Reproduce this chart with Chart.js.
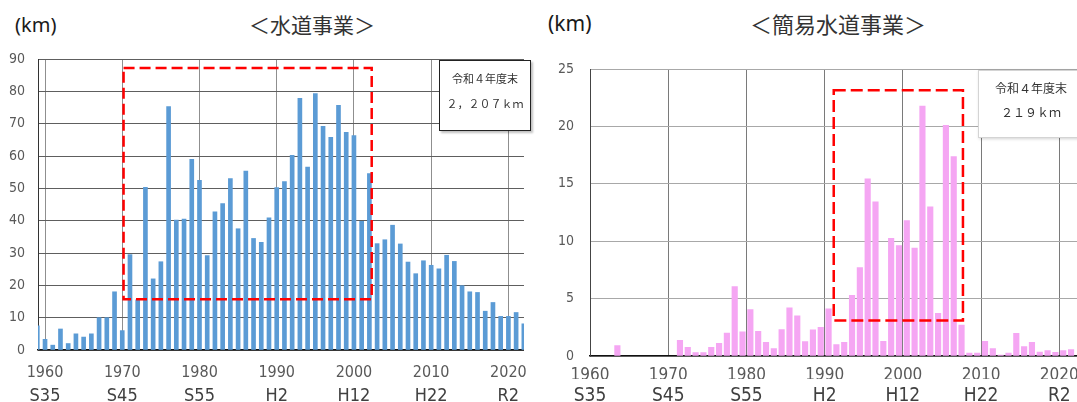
<!DOCTYPE html>
<html>
<head>
<meta charset="utf-8">
<script src="https://cdn.jsdelivr.net/npm/chart.js@4.4.1/dist/chart.umd.min.js"></script>
<style>
  html, body { margin: 0; padding: 0; background: #fff; width: 1077px; height: 402px; overflow: hidden; position: relative; }
  .panel { position: absolute; top: 0; height: 402px; }
  .panel canvas { position: absolute; left: 0; top: 0; }
  .unit { position: absolute; font-family: "Noto Sans", sans-serif; color: #1a1a1a; line-height: 1; white-space: nowrap; }
  .title { position: absolute; font-family: "Noto Sans CJK JP", sans-serif; color: #333; line-height: 1; white-space: nowrap; transform: translate(-50%, -50%); }
  .note { position: absolute; background: #fff; font-family: "Noto Sans CJK JP", sans-serif; color: #333; text-align: center; box-sizing: border-box; white-space: nowrap; }
</style>
</head>
<body>
<div class="unit" style="left:15px; top:15px; font-size:20px;">(km)</div>
<div class="title" style="left:312px; top:24px; font-size:21px;">＜水道事業＞</div>
<div class="unit" style="left:548px; top:13px; font-size:21px;">(km)</div>
<div class="title" style="left:838px; top:23px; font-size:22px;">＜簡易水道事業＞</div>

<div class="panel" style="left:0; width:540px;"><canvas id="water" width="540" height="402"></canvas></div>
<div class="panel" style="left:540px; width:548px;"><canvas id="simple" width="548" height="402"></canvas></div>

<div class="note" style="left:439px; top:60px; width:92px; height:71px; border:1.5px solid #222; box-shadow:2px 2px 2px rgba(0,0,0,0.25); font-size:11px; line-height:25px; padding-top:5px;">令和４年度末<br>２，２０７ｋｍ</div>
<div class="note" style="left:978px; top:70px; width:106px; height:68px; border:1px solid #d4d4d4; box-shadow:1px 1px 3px rgba(0,0,0,0.18); font-size:12px; line-height:24px; padding-top:5px;">令和４年度末<br>２１９ｋｍ</div>

<script>
// Decade ticks on both charts, with the matching Japanese era year underneath
const decadeYears = [1960, 1970, 1980, 1990, 2000, 2010, 2020];
const eraLabels   = ['S35', 'S45', 'S55', 'H2', 'H12', 'H22', 'R2'];

// 水道事業: pipe length installed per year (km)
const waterYears = [
  1959, 1960, 1961, 1962, 1963, 1964, 1965, 1966, 1967, 1968, 1969,
  1970, 1971, 1972, 1973, 1974, 1975, 1976, 1977, 1978, 1979,
  1980, 1981, 1982, 1983, 1984, 1985, 1986, 1987, 1988, 1989,
  1990, 1991, 1992, 1993, 1994, 1995, 1996, 1997, 1998, 1999,
  2000, 2001, 2002, 2003, 2004, 2005, 2006, 2007, 2008, 2009,
  2010, 2011, 2012, 2013, 2014, 2015, 2016, 2017, 2018, 2019,
  2020, 2021, 2022
];
const waterKm = [
  7.5, 3.3, 1.5, 6.5, 2.0, 5.0, 4.0, 5.0, 10.0, 10.0, 18.0,
  6.0, 29.5, 15.5, 50.3, 22.0, 27.3, 75.3, 40.2, 40.5, 59.0,
  52.5, 29.2, 42.7, 45.3, 53.0, 37.5, 55.3, 34.5, 33.3, 40.9,
  50.2, 52.1, 60.2, 77.8, 56.6, 79.3, 69.2, 65.8, 75.7, 67.3,
  66.3, 39.8, 54.6, 32.9, 34.1, 38.6, 32.8, 27.2, 23.6, 27.6,
  26.2, 25.1, 29.3, 27.4, 19.9, 18.0, 17.8, 12.0, 14.7, 10.4,
  10.4, 11.6, 8.1
];

// 簡易水道事業: pipe length installed per fiscal year (km)
const simpleYears = [
  1963,
  1971, 1972, 1973, 1974, 1975, 1976, 1977, 1978, 1979,
  1980, 1981, 1982, 1983, 1984, 1985, 1986, 1987, 1988, 1989,
  1990, 1991, 1992, 1993, 1994, 1995, 1996, 1997, 1998, 1999,
  2000, 2001, 2002, 2003, 2004, 2005, 2006, 2007, 2008, 2009,
  2010, 2011, 2012, 2013, 2014, 2015, 2016, 2017, 2018, 2019,
  2020, 2021
];
const simpleKm = [
  0.9,
  1.36, 0.75, 0.3, 0.3, 0.75, 1.1, 2.0, 6.05, 2.1,
  4.05, 2.15, 1.18, 0.64, 2.3, 4.2, 3.5, 1.25, 2.27, 2.5,
  4.1, 0.99, 1.19, 5.29, 7.7, 15.44, 13.43, 1.28, 10.26, 9.62,
  11.8, 9.39, 21.77, 13.0, 3.72, 20.09, 17.38, 2.7, 0.26, 0.26,
  1.28, 0.64, 0.09, 0.26, 1.98, 0.81, 1.19, 0.35, 0.47, 0.32,
  0.47, 0.55
];

// Highlighted period on each chart (years on x, km on y)
const waterFocus  = { x0: 1970.17, x1: 2002.3, y0: 15.7, y1: 87.2 };
const simpleFocus = { x0: 1991.16, x1: 2007.68, y0: 3.1, y1: 23.15 };

const narrow = '"Liberation Sans Narrow", "Arial Narrow", "DejaVu Sans Condensed", sans-serif';

// Dashed red rectangle drawn in data units through the chart's scales
const focusBox = {
  id: 'focusBox',
  afterDatasetsDraw(chart, args, opts) {
    const xs = chart.scales.x, ys = chart.scales.y;
    const l = xs.getPixelForValue(opts.x0), r = xs.getPixelForValue(opts.x1);
    const t = ys.getPixelForValue(opts.y1), b = ys.getPixelForValue(opts.y0);
    const ctx = chart.ctx;
    ctx.save();
    ctx.strokeStyle = '#ff0000';
    ctx.lineWidth = 2.5;
    ctx.setLineDash(opts.dash);
    ctx.strokeRect(l, t, r - l, b - t);
    ctx.restore();
  }
};

function decadeTicks(scale) {
  scale.ticks = decadeYears.map(v => ({ value: v }));
}

function makeChart(el, cfg) {
  return new Chart(document.getElementById(el), {
    type: 'bar',
    data: {
      datasets: [{
        data: cfg.points,
        backgroundColor: cfg.color,
        borderWidth: 0,
        barThickness: cfg.barWidth,
        xAxisID: 'x',
        yAxisID: 'y'
      }]
    },
    options: {
      responsive: false,
      animation: false,
      events: [],
      layout: { padding: { top: cfg.top, right: cfg.right, left: 0, bottom: 0 } },
      plugins: {
        legend: { display: false },
        tooltip: { enabled: false },
        focusBox: Object.assign({ dash: cfg.dash }, cfg.focus)
      },
      scales: {
        x: {
          type: 'linear',
          position: 'bottom',
          offset: false,
          min: cfg.xMin,
          max: cfg.xMax,
          afterBuildTicks: decadeTicks,
          afterFit: s => { s.height = cfg.yearAxisH; },
          grid: { color: cfg.vGrid, lineWidth: 1, drawTicks: false, offset: false },
          border: { color: '#111', width: 1.5 },
          ticks: {
            autoSkip: false, maxRotation: 0, padding: cfg.yearPad,
            color: '#595959', font: { family: narrow, size: cfg.yearFont },
            callback: v => String(v)
          }
        },
        era: {
          type: 'linear',
          axis: 'x',
          position: 'bottom',
          offset: false,
          min: cfg.xMin,
          max: cfg.xMax,
          afterBuildTicks: decadeTicks,
          afterFit: s => { s.height = cfg.eraAxisH; },
          grid: { display: false, drawTicks: false, offset: false },
          border: { display: false },
          ticks: {
            autoSkip: false, maxRotation: 0, padding: cfg.eraPad,
            color: '#404040', font: { family: narrow, size: cfg.eraFont },
            callback: v => eraLabels[decadeYears.indexOf(v)]
          }
        },
        y: {
          min: 0,
          max: cfg.yMax,
          afterFit: s => { s.width = cfg.yAxisW; },
          grid: { color: cfg.hGrid, lineWidth: 1, drawTicks: false },
          border: { color: cfg.yBorder, width: 1 },
          ticks: {
            stepSize: cfg.yStep, padding: cfg.yPad,
            color: '#595959', font: { family: narrow, size: 14 }
          }
        }
      }
    },
    plugins: [focusBox]
  });
}

// 水道事業: each bar centred on its year
makeChart('water', {
  points: waterYears.map((yr, i) => ({ x: yr, y: waterKm[i] })),
  color: '#5B9BD5',
  barWidth: 4,
  top: 59, right: 9,
  xMin: 1959.09, xMax: 2022.02,
  yMax: 90, yStep: 10,
  yAxisW: 38, yPad: 13,
  yearAxisH: 29, yearPad: 13, yearFont: 16,
  eraAxisH: 23, eraPad: 7, eraFont: 18,
  vGrid: '#8f8f8f', hGrid: '#5e5e5e', yBorder: '#333',
  focus: waterFocus, dash: [11, 5]
});

// 簡易水道事業: each bar fills the span of its fiscal year [Y, Y+1)
makeChart('simple', {
  points: simpleYears.map((yr, i) => ({ x: yr + 0.5, y: simpleKm[i] })),
  color: '#F5A6F3',
  barWidth: 5.5,
  top: 69, right: 4.7,
  xMin: 1960, xMax: 2023,
  yMax: 25, yStep: 5,
  yAxisW: 50, yPad: 16,
  yearAxisH: 23, yearPad: 9, yearFont: 17,
  eraAxisH: 23, eraPad: 6, eraFont: 19,
  vGrid: '#7a7a7a', hGrid: '#a8a8a8', yBorder: '#444',
  focus: simpleFocus, dash: [12, 5]
});
</script>
</body>
</html>
